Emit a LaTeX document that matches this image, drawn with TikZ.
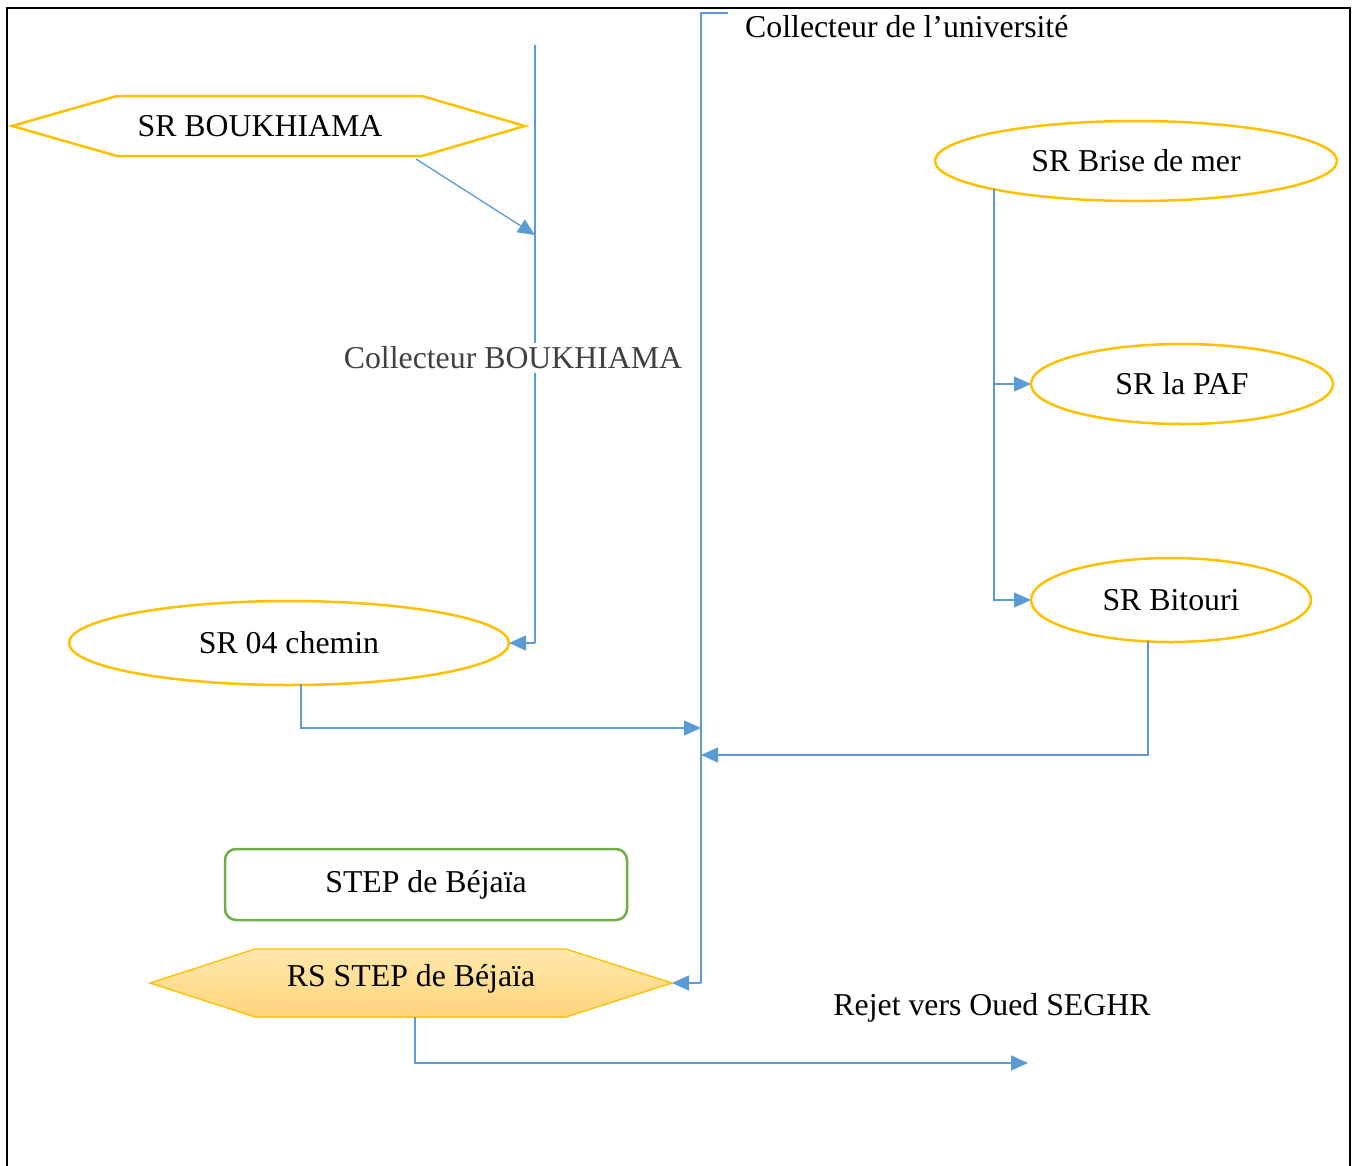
\documentclass[tikz,border=0pt]{standalone}
\usepackage{fontspec}
\setmainfont{Liberation Serif}
\usetikzlibrary{arrows.meta,shapes.geometric,calc}
\definecolor{gold}{HTML}{FFC000}
\definecolor{connc}{HTML}{5B9BD5}
\definecolor{grn}{HTML}{70AD47}
\definecolor{lbl}{HTML}{404040}
\definecolor{fillA}{HTML}{FFE9AC}
\definecolor{fillB}{HTML}{FFD37A}
\begin{document}
\begin{tikzpicture}[x=1pt,y=-1pt,
  txt/.style={font=\fontsize{31.8}{38}\selectfont, inner sep=2pt},
  conn/.style={draw=connc, line width=1.3pt},
  arr/.style={conn, -{Triangle[length=17pt,width=15pt]}},
  oval/.style={ellipse, draw=gold, line width=2.5pt, inner sep=0pt, outer sep=0pt, font=\fontsize{31.8}{38}\selectfont},
  hexbox/.style={rectangle, draw=none, inner sep=0pt, outer sep=0pt},
  stepbox/.style={rectangle, rounded corners=11pt, draw=grn, line width=2.5pt, inner sep=0pt, outer sep=0pt, minimum width=402pt, minimum height=71pt, font=\fontsize{31.8}{38}\selectfont}
]
\useasboundingbox (0,0) rectangle (1357,1165);
\clip (0,0) rectangle (1357,1165);
\draw[line width=2.6pt] (7,8) rectangle (1350,1220);

% SR BOUKHIAMA hexagon
\node[hexbox, minimum width=513pt, minimum height=60pt] (bk) at (268.5,126) {};
\draw[gold, line width=2.5pt, line join=miter] (bk.west) -- ([xshift=105pt]bk.north west) -- ([xshift=-103pt]bk.north east) -- (bk.east) -- ([xshift=-103pt]bk.south east) -- ([xshift=105pt]bk.south west) -- cycle;
\node[txt] (bkt) at (260,126) {SR BOUKHIAMA};

% Collecteur BOUKHIAMA
\coordinate (bt) at (535,45);
\coordinate (ba) at (535,235);
\coordinate (bb) at (535,643);
\node[oval, minimum width=440pt, minimum height=84pt] (c04) at (289,643) {SR 04 chemin};
\draw[conn] (bt) -- (bb);
\draw[arr] (bb) -- (c04.east);
\draw[arr] ([xshift=-109pt,yshift=-3pt]bk.south east) -- (ba);
\node[txt, fill=white, text=lbl, inner sep=4pt] (lb) at (513,358) {Collecteur BOUKHIAMA};

% Collecteur de l'universite
\coordinate (ut) at (728,13);
\coordinate (uc) at (701,13);
\coordinate (j1) at (701,728);
\coordinate (j2) at (701,755);
\coordinate (ub) at (701,983);
\node[txt, anchor=west] (ul) at (743,27) {Collecteur de l’université};

% RS STEP hexagon
\node[hexbox, minimum width=522pt, minimum height=68pt] (rs) at (411,983) {};
\fill[top color=fillA, bottom color=fillB] (rs.west) -- ([xshift=105pt]rs.north west) -- ([xshift=-106pt]rs.north east) -- (rs.east) -- ([xshift=-106pt]rs.south east) -- ([xshift=105pt]rs.south west) -- cycle;
\draw[gold, line width=1.3pt] (rs.west) -- ([xshift=105pt]rs.north west) -- ([xshift=-106pt]rs.north east) -- (rs.east) -- ([xshift=-106pt]rs.south east) -- ([xshift=105pt]rs.south west) -- cycle;
\node[txt] (rst) at (411,979) {RS STEP de Béjaïa};

\draw[conn] (ut) -- (uc) -- (ub);
\draw[arr] (ub) -- (rs.east);

% right side
\node[oval, minimum width=402pt, minimum height=80pt] (brise) at (1136,161) {SR Brise de mer};
\node[oval, minimum width=302pt, minimum height=80pt] (paf) at (1182,384) {SR la PAF};
\node[oval, minimum width=280pt, minimum height=84pt] (bit) at (1171,600) {SR Bitouri};
\draw[arr] (brise.south west) |- (paf.west);
\draw[arr] (brise.south west) |- (bit.west);
\draw[arr] ([xshift=-23pt,yshift=1pt]bit.south) |- (j2);
\draw[arr] ([xshift=12pt,yshift=1pt]c04.south) |- (j1);

% STEP
\node[stepbox] (step) at (426,884.5) {STEP de Béjaïa};

% Rejet
\coordinate (rej) at (1028,1063);
\draw[arr] ([xshift=4pt]rs.south) |- (rej);
\node[txt] (rejl) at (992,1008) {Rejet vers Oued SEGHR};
\end{tikzpicture}
\end{document}
